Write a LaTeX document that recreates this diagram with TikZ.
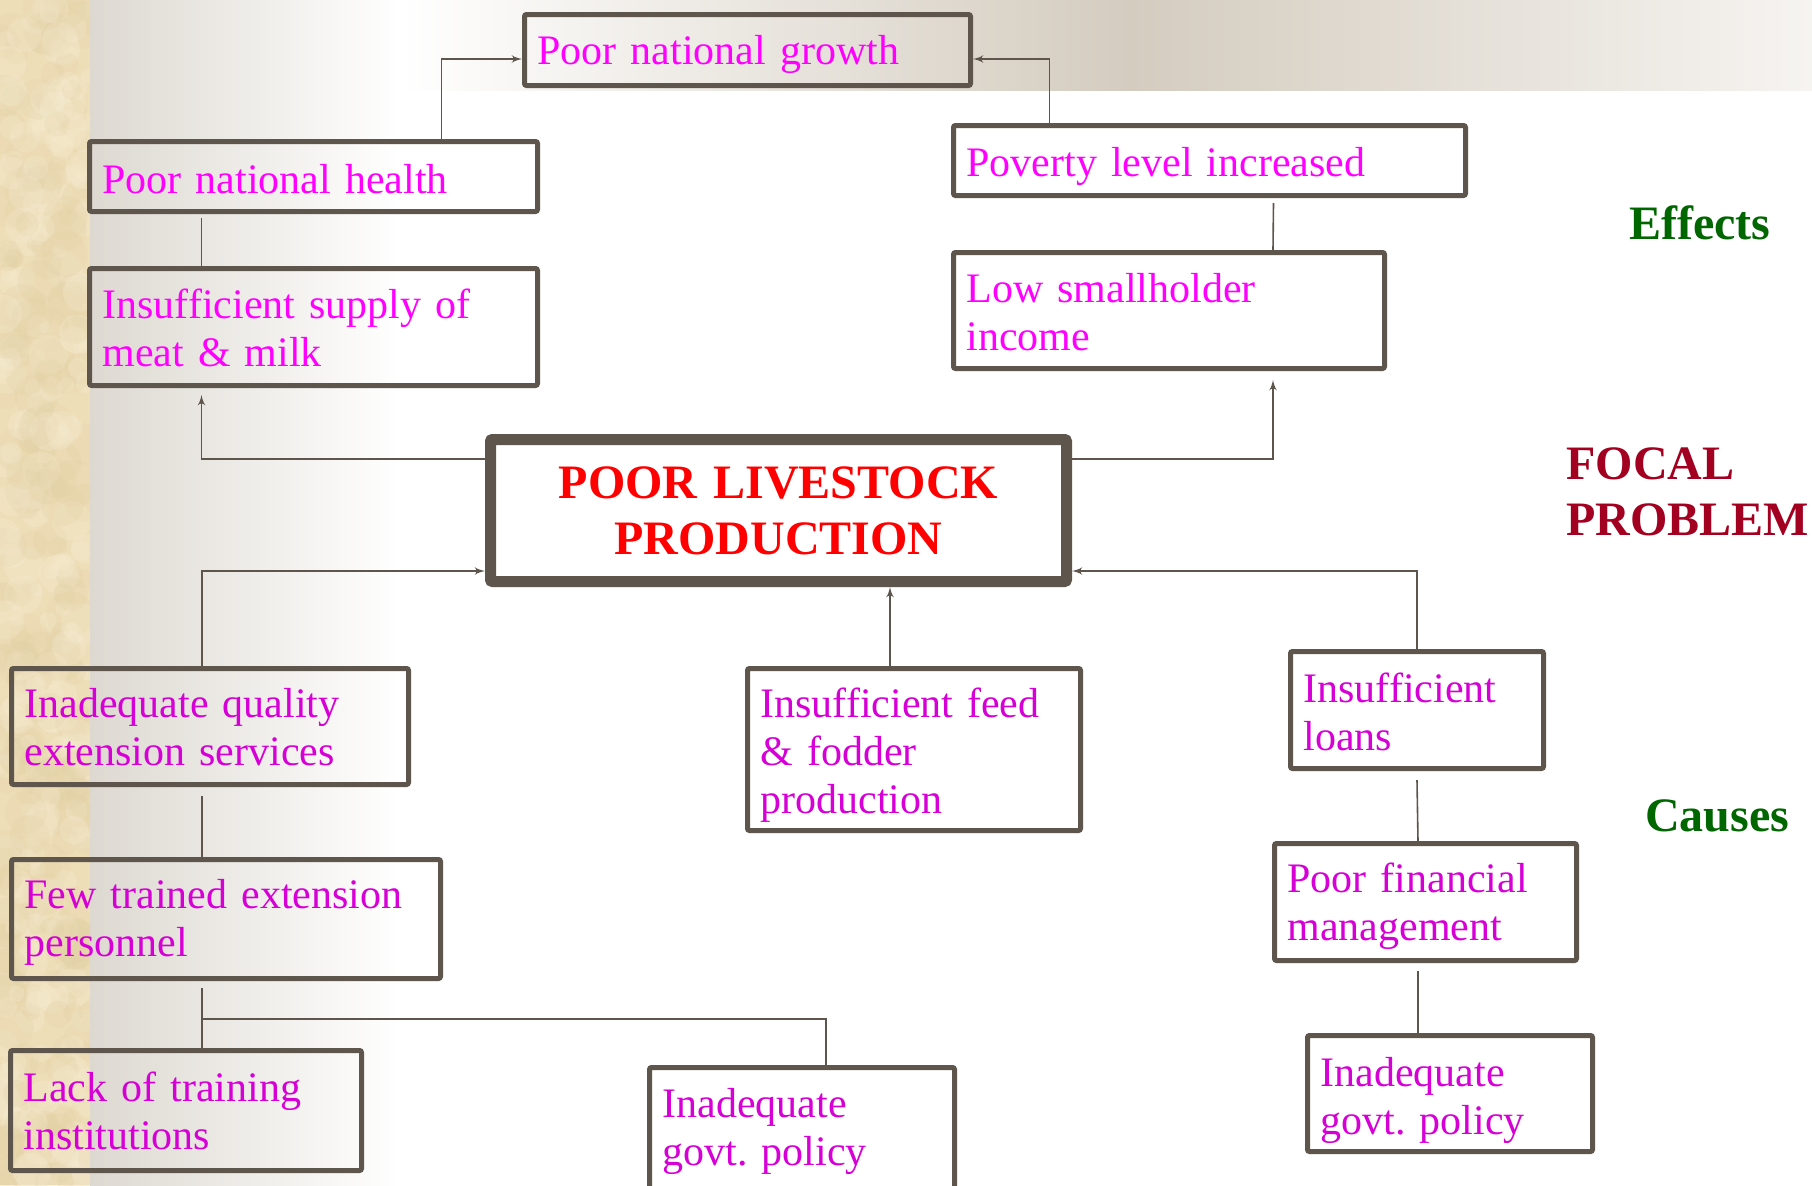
\documentclass[tikz,border=0pt]{standalone}
\usepackage{fontspec}
\setmainfont{Liberation Serif}
\usepackage{tikz}
\usetikzlibrary{arrows}
\frenchspacing
\newcommand{\drop}[1]{\rule{0pt}{\dimexpr 14.4pt+#1\relax}}
\tikzstyle{line} = [draw, thick, color=myline, -latex']
\tikzstyle{link} = [draw, thick, color=myline]
\definecolor{myline}{RGB}{94,86,77}
\definecolor{mymagenta}{RGB}{255,0,255}
\definecolor{mypurple}{RGB}{214,0,214}
\definecolor{myred}{RGB}{255,0,0}
\definecolor{mywine}{RGB}{163,0,33}
\definecolor{mygreen}{RGB}{0,102,0}
\definecolor{mysand}{RGB}{238,222,184}
\definecolor{mysandd}{RGB}{226,208,164}
\definecolor{mysandl}{RGB}{246,236,210}
\definecolor{mygrey}{RGB}{221,217,209}
\definecolor{mytaupe}{RGB}{212,204,191}
\definecolor{myshell}{RGB}{246,244,241}

\begin{document}
\begin{tikzpicture}[x=0.5pt,y=-0.5pt,
effb/.style={
  draw=myline,
  line width=2.5pt,
  rounded corners=1pt,
  inner xsep=6.5pt,
  inner ysep=0pt,
  align=left,
  font={\fontsize{21}{24}\selectfont},
  text=mymagenta},
causeb/.style={effb,text=mypurple},
focalb/.style={effb,line width=5.5pt,align=center,text=myred,
  font={\bfseries\fontsize{24}{28}\selectfont}},
sidel/.style={font={\bfseries\fontsize{24}{28}\selectfont},inner sep=0pt},
]
\useasboundingbox (0,0) rectangle (1812,1185);
% background
\fill[white] (0,0) rectangle (1812,1185);
\shade[left color=mygrey,right color=white] (90,0) rectangle (400,1185);
\shade[left color=white,right color=mytaupe] (400,0) rectangle (1130,90);
\shade[left color=mytaupe,right color=myshell] (1130,0) rectangle (1812,90);
\begin{scope}
\clip (0,0) rectangle (90,1185);
\fill[mysand] (0,0) rectangle (90,1185);
\pgfmathsetseed{42}
\foreach \i in {1,...,220}{
  \fill[mysandd,opacity=0.22] ({90*rnd},{1185*rnd}) circle[radius=4pt+8*rnd*1pt];
  \fill[mysandl,opacity=0.28] ({90*rnd},{1185*rnd}) circle[radius=3pt+7*rnd*1pt];
}
\end{scope}

% effects
\node[effb,text width=210pt,minimum height=35.5pt] (growth) at (747.5,50) {\drop{5pt}Poor national growth};
\node[effb,text width=211pt,minimum height=35pt] (health) at (313.5,176.5) {\drop{2.4pt}Poor national health};
\node[effb,text width=243pt,minimum height=35pt] (poverty) at (1209.5,160.5) {\drop{5.8pt}Poverty level increased};
\node[effb,text width=211pt,minimum height=58.5pt] (supply) at (313.5,327) {\drop{1pt}Insufficient supply of\\meat \& milk};
\node[effb,text width=202.5pt,minimum height=58pt] (income) at (1169,310.5) {\drop{1.7pt}Low smallholder\\income};

% focal problem
\node[focalb,text width=275pt,minimum height=71pt] (focal) at (778.5,510.5) {POOR LIVESTOCK\\PRODUCTION};

% causes
\node[causeb,text width=185.5pt,minimum height=58pt] (quality) at (210,726.5) {\drop{1pt}Inadequate quality\\extension services};
\node[causeb,text width=153.5pt,minimum height=81pt] (feed) at (914,749.5) {\drop{6.4pt}Insufficient feed\\\& fodder\\production};
\node[causeb,text width=113.5pt,minimum height=58.5pt] (loans) at (1417,710) {\drop{2.4pt}Insufficient\\loans};
\node[causeb,text width=201.5pt,minimum height=59.5pt] (staff) at (226,919) {\drop{4pt}Few trained extension\\personnel};
\node[causeb,text width=138pt,minimum height=58.5pt] (finance) at (1425.5,902) {\drop{4.6pt}Poor financial\\management};
\node[causeb,text width=162.5pt,minimum height=60pt] (schools) at (186,1110.5) {Lack of training\\institutions};
\node[causeb,text width=139.5pt,minimum height=60.5pt] (policyl) at (802,1128) {\drop{3.5pt}Inadequate\\govt. policy};
\node[causeb,text width=129.5pt,minimum height=58pt] (policyr) at (1450,1093.5) {\drop{7pt}Inadequate\\govt. policy};

% side labels
\node[sidel,text=mygreen] (eff) at (1700,223) {Effects};
\node[sidel,text=mywine,align=left,anchor=west] (fp) at (1566,492) {FOCAL\\PROBLEM};
\node[sidel,text=mygreen] (cau) at (1717,816) {Causes};

% connectors
\path[line] ([xshift=64pt]health.north) |- ([yshift=-4.5pt]growth.west);
\path[line] ([xshift=-80pt]poverty.north) |- ([yshift=-4.5pt]growth.east);
\path[link] ([xshift=-56pt,yshift=-2pt]health.south) -- ([xshift=-56pt]supply.north);
\path[link] ([xshift=32pt,yshift=-2.5pt]poverty.south) -- ([xshift=52pt]income.north);
\path[line] ([yshift=25.75pt]focal.west) -| ([xshift=-56pt,yshift=-3.5pt]supply.south);
\path[line] ([yshift=25.75pt]focal.east) -| ([xshift=52pt,yshift=-4.5pt]income.south);
\path[line] ([xshift=-4pt]quality.north) |- ([yshift=-30.25pt]focal.west);
\path[line] (loans.north) |- ([yshift=-30.25pt]focal.east);
\coordinate (feedtop) at ([xshift=-12pt]feed.north);
\path[line] (feedtop) -- (feedtop |- focal.south);
\path[link] ([xshift=-4pt,yshift=-4.5pt]quality.south) -- ([xshift=-12pt]staff.north);
\path[link] ([xshift=-12pt,yshift=-3.5pt]staff.south) -- ([xshift=8pt]schools.north);
\coordinate (fork) at ([xshift=-12pt,yshift=-19pt]staff.south);
\path[link] (fork) -| ([xshift=12pt]policyl.north);
\path[link] ([yshift=-4.5pt]loans.south) -- ([xshift=-3.75pt]finance.north);
\path[link] ([xshift=-3.75pt,yshift=-4pt]finance.south) -- ([xshift=-16pt]policyr.north);
\end{tikzpicture}
\end{document}
